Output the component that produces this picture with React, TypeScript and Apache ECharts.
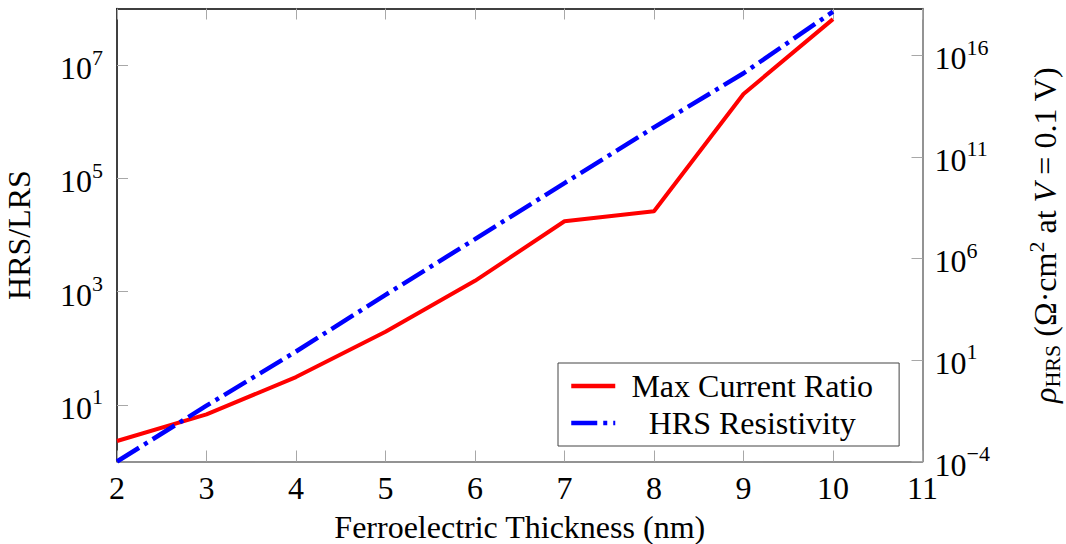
import React, { useEffect, useRef } from "react";
import * as echarts from "echarts";

const FONT = "Liberation Serif";

const thickness = [2, 3, 4, 5, 6, 7, 8, 9, 10];
const maxCurrentRatio = [2.3, 6.8, 31, 195, 1550, 17500, 26300, 3.1e6, 6.5e7];
const hrsResistivity = [1e-4, 5.6e-2, 2.6e1, 1.6e4, 8.9e6, 5.1e9, 2.8e12, 1.3e15, 1.4e18];

const xMin = 2;
const xMax = 11;
const leftMin = 1;
const leftMax = 1e8;
const rightMin = 1e-4;
const rightMax = 2e18;
const leftTickValues = [10, 1e3, 1e5, 1e7];
const rightTickValues = [1e-4, 10, 1e6, 1e11, 1e16];

const seriesNames = ["Max Current Ratio", "HRS Resistivity"];

const AXIS_GRAY = "#6f6f6f";
const TICK_GRAY = "#a8a8a8";

function powLabel(v: number): string {
  const e = Math.round(Math.log10(v));
  const s = e < 0 ? "\u2212" + String(-e) : String(e);
  return `{b|10}{s|${s}}`;
}

const powRich = {
  b: { fontSize: 32, fontFamily: FONT, color: "#000", lineHeight: 38, verticalAlign: "bottom" },
  s: { fontSize: 22, fontFamily: FONT, color: "#000", verticalAlign: "top" },
};

export default function App() {
  const ref = useRef<HTMLDivElement>(null);

  useEffect(() => {
    if (!ref.current) return;
    const chart = echarts.init(ref.current, undefined, { renderer: "svg" });

    const option: any = {
      animation: false,
      backgroundColor: "#fff",
      textStyle: { fontFamily: FONT, color: "#000" },
      grid: {
        left: 117,
        right: 143.5,
        top: 8.5,
        bottom: 82.5,
        containLabel: false,
        outerBoundsMode: "none",
      },
      xAxis: [
        {
          type: "value",
          position: "bottom",
          min: xMin,
          max: xMax,
          interval: 1,
          name: "Ferroelectric Thickness (nm)",
          nameLocation: "middle",
          nameGap: 49,
          nameTextStyle: { fontSize: 32, fontFamily: FONT, color: "#000" },
          axisLine: { show: true, onZero: false, lineStyle: { color: AXIS_GRAY, width: 1.5 } },
          axisTick: { show: true, inside: true, length: 11, lineStyle: { color: TICK_GRAY, width: 1 } },
          axisLabel: { fontSize: 32, fontFamily: FONT, color: "#000", margin: 10 },
          splitLine: { show: false },
        },
        {
          type: "value",
          position: "top",
          min: xMin,
          max: xMax,
          interval: 1,
          axisLine: { show: true, onZero: false, lineStyle: { color: "#000", width: 1.5 } },
          axisTick: { show: true, inside: true, length: 11, lineStyle: { color: TICK_GRAY, width: 1 } },
          axisLabel: { show: false },
          splitLine: { show: false },
        },
      ],
      yAxis: [
        {
          type: "log",
          logBase: 10,
          position: "left",
          min: leftMin,
          max: leftMax,
          name: "HRS/LRS",
          nameLocation: "middle",
          nameRotate: 90,
          nameGap: 82,
          nameTextStyle: { fontSize: 32, fontFamily: FONT, color: "#000" },
          axisLine: { show: true, onZero: false, lineStyle: { color: "#000", width: 1.5 } },
          axisTick: { show: true, inside: true, length: 11, customValues: leftTickValues, lineStyle: { color: TICK_GRAY, width: 1 } },
          axisLabel: {
            customValues: leftTickValues,
            margin: 14,
            formatter: (v: number) => powLabel(v),
            rich: powRich,
          },
          minorTick: { show: false },
          splitLine: { show: false },
        },
        {
          type: "log",
          logBase: 10,
          position: "right",
          min: rightMin,
          max: rightMax,
          name:
            "{i|\u03c1}{sub|HRS}{n| (\u03a9\u00b7cm}{sup|2}{n| at }{i|V}{n| = 0.1 V)}",
          nameLocation: "middle",
          nameRotate: 90,
          nameGap: 103,
          nameTextStyle: {
            rich: {
              i: { fontSize: 32, fontFamily: FONT, fontStyle: "italic", color: "#000", lineHeight: 38, verticalAlign: "middle" },
              n: { fontSize: 32, fontFamily: FONT, color: "#000", lineHeight: 38, verticalAlign: "middle" },
              sub: { fontSize: 22, fontFamily: FONT, color: "#000", verticalAlign: "bottom" },
              sup: { fontSize: 22, fontFamily: FONT, color: "#000", verticalAlign: "top" },
            },
          },
          axisLine: { show: true, onZero: false, lineStyle: { color: AXIS_GRAY, width: 1.5 } },
          axisTick: { show: true, inside: true, length: 11, customValues: rightTickValues, lineStyle: { color: TICK_GRAY, width: 1 } },
          axisLabel: {
            customValues: rightTickValues,
            margin: 12,
            formatter: (v: number) => powLabel(v),
            rich: powRich,
          },
          minorTick: { show: false },
          splitLine: { show: false },
        },
      ],
      legend: {
        orient: "vertical",
        left: 558,
        top: 363,
        backgroundColor: "#fff",
        borderColor: "#444",
        borderWidth: 1,
        borderRadius: 0,
        padding: [7, 26, 7, 11],
        itemGap: 5,
        itemWidth: 44,
        itemHeight: 14,
        itemStyle: { opacity: 0, borderWidth: 0 },
        lineStyle: { width: 4.5 },
        data: seriesNames,
        formatter: (name: string) => `{t|${name}}`,
        textStyle: {
          rich: {
            t: { width: 264, align: "center", fontSize: 32, fontFamily: FONT, color: "#000" },
          },
        },
      },
      series: [
        {
          name: seriesNames[0],
          type: "line",
          xAxisIndex: 0,
          yAxisIndex: 0,
          data: thickness.map((x, i) => [x, maxCurrentRatio[i]]),
          showSymbol: false,
          symbol: "none",
          lineStyle: { color: "#ff0000", width: 4 },
          itemStyle: { color: "#ff0000" },
        },
        {
          name: seriesNames[1],
          type: "line",
          xAxisIndex: 0,
          yAxisIndex: 1,
          data: thickness.map((x, i) => [x, hrsResistivity[i]]),
          showSymbol: false,
          symbol: "none",
          lineStyle: { color: "#0000ff", width: 4.5, type: [26, 6, 4, 6] },
          itemStyle: { color: "#0000ff" },
        },
      ],
    };

    chart.setOption(option);
    return () => chart.dispose();
  }, []);

  return (
    <div
      ref={ref}
      style={{ position: "fixed", left: 0, top: 0, width: 1066, height: 544, background: "#fff" }}
    />
  );
}
